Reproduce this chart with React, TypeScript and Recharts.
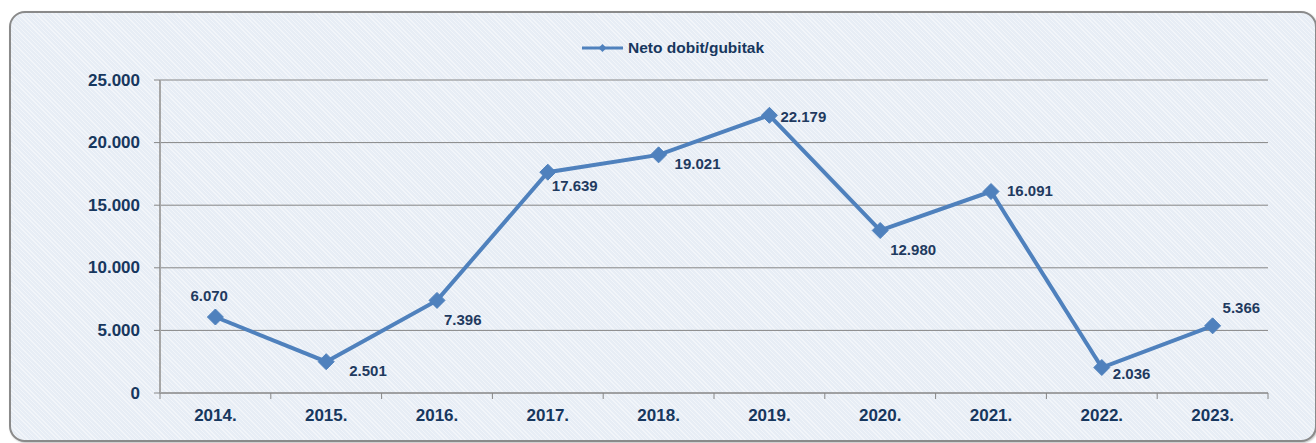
import React from 'react';
import { LineChart, Line, XAxis, YAxis, CartesianGrid, Legend, LabelList } from 'recharts';

const years = ['2014.', '2015.', '2016.', '2017.', '2018.', '2019.', '2020.', '2021.', '2022.', '2023.'];
const netProfit = [6070, 2501, 7396, 17639, 19021, 22179, 12980, 16091, 2036, 5366];
const yTicks = [0, 5000, 10000, 15000, 20000, 25000];
const seriesName = 'Neto dobit/gubitak';

// label placement relative to each point: [dx to text start, dy to text centre]
const labelOffsets: [number, number][] = [
  [-25, -22], [23, 9], [7, 19], [4, 13], [16, 9], [11, 1], [10, 19], [16, -1], [11, 6], [10, -18],
];

const data = years.map((year, i) => ({ year, value: netProfit[i] }));

const W = 1316;
const H = 443;
const M = { top: 80, right: 48, bottom: 20, left: 0 };
const Y_AXIS_W = 160;
const X_AXIS_H = 30;
const PLOT_BOTTOM = H - M.bottom - X_AXIS_H;
const BAND = (W - M.left - M.right - Y_AXIS_W) / years.length;

const LINE_COLOR = '#4f81bd';
const TEXT_COLOR = '#17375e';
const LABEL_COLOR = '#1f3a5f';
const GRID_COLOR = '#868686';
const FONT = '"Liberation Sans", Arial, sans-serif';

const fmt = (v: number) => String(v).replace(/\B(?=(\d{3})+(?!\d))/g, '.');

function XTick(props: any) {
  const { x, payload, index } = props;
  return (
    <g>
      <line x1={x - BAND / 2} x2={x - BAND / 2} y1={PLOT_BOTTOM} y2={PLOT_BOTTOM + 6} stroke={GRID_COLOR} strokeWidth={1} />
      {index === years.length - 1 && (
        <line x1={x + BAND / 2} x2={x + BAND / 2} y1={PLOT_BOTTOM} y2={PLOT_BOTTOM + 6} stroke={GRID_COLOR} strokeWidth={1} />
      )}
      <text x={x} y={PLOT_BOTTOM + 22} textAnchor="middle" dominantBaseline="central" fill={TEXT_COLOR}
        fontFamily={FONT} fontWeight="bold" fontSize={17}>
        {payload.value}
      </text>
    </g>
  );
}

function YTick(props: any) {
  const { y, payload } = props;
  return (
    <text x={140} y={y} textAnchor="end" dominantBaseline="central" fill={TEXT_COLOR}
      fontFamily={FONT} fontWeight="bold" fontSize={17}>
      {fmt(payload.value)}
    </text>
  );
}

function Diamond(props: any) {
  const { cx, cy } = props;
  if (cx == null || cy == null) return null;
  const r = 8;
  return (
    <polygon points={`${cx},${cy - r} ${cx + r},${cy} ${cx},${cy + r} ${cx - r},${cy}`} fill={LINE_COLOR} stroke={LINE_COLOR} strokeWidth={1} />
  );
}

function DataLabel(props: any) {
  const { x, y, value, index } = props;
  const [dx, dy] = labelOffsets[index] || [8, 0];
  return (
    <text x={x + dx} y={y + dy} textAnchor="start" dominantBaseline="central" fill={LABEL_COLOR}
      fontFamily={FONT} fontWeight="bold" fontSize={15}>
      {fmt(value)}
    </text>
  );
}

function LegendContent() {
  return (
    <svg width={W} height={24} style={{ display: 'block' }}>
      <line x1={582} x2={623} y1={12} y2={12} stroke={LINE_COLOR} strokeWidth={3} />
      <polygon points="602.5,8 606.5,12 602.5,16 598.5,12" fill={LINE_COLOR} />
      <text x={628} y={11.5} dominantBaseline="central" fill={TEXT_COLOR} fontFamily={FONT} fontWeight="bold" fontSize={15.5}>
        {seriesName}
      </text>
    </svg>
  );
}

export default function App() {
  return (
    <div style={{ position: 'absolute', left: 0, top: 0, width: W, height: H, background: '#ffffff', overflow: 'hidden' }}>
      <div
        style={{
          position: 'absolute',
          left: 9,
          top: 11,
          width: 1308,
          height: 431,
          boxSizing: 'border-box',
          border: '2px solid #8a8a8a',
          borderRadius: 16,
          backgroundColor: '#e7edf5',
          backgroundImage:
            'repeating-linear-gradient(45deg, rgba(255,255,255,0.45) 0px, rgba(255,255,255,0.45) 1px, rgba(255,255,255,0) 1px, rgba(255,255,255,0) 3px)',
          boxShadow: '1px 1px 2px rgba(0,0,0,0.25)',
        }}
      />
      <div style={{ position: 'absolute', left: 0, top: 0 }}>
        <LineChart width={W} height={H} data={data} margin={M}>
          <CartesianGrid vertical={false} stroke={GRID_COLOR} strokeWidth={1} />
          <XAxis
            dataKey="year"
            scale="band"
            height={X_AXIS_H}
            interval={0}
            axisLine={{ stroke: GRID_COLOR, strokeWidth: 1 }}
            tickLine={false}
            tick={<XTick />}
          />
          <YAxis
            width={Y_AXIS_W}
            domain={[0, 25000]}
            ticks={yTicks}
            interval={0}
            axisLine={{ stroke: '#a6a6a6', strokeWidth: 2 }}
            tickLine={{ stroke: GRID_COLOR, strokeWidth: 1 }}
            tickSize={6}
            tick={<YTick />}
          />
          <Legend
            layout="horizontal"
            verticalAlign="middle"
            align="center"
            content={<LegendContent />}
            wrapperStyle={{ top: 36, left: 0, width: W }}
          />
          <Line
            type="linear"
            dataKey="value"
            name={seriesName}
            stroke={LINE_COLOR}
            strokeWidth={4}
            dot={<Diamond />}
            activeDot={false}
            isAnimationActive={false}
          >
            <LabelList dataKey="value" content={<DataLabel />} />
          </Line>
        </LineChart>
      </div>
    </div>
  );
}
